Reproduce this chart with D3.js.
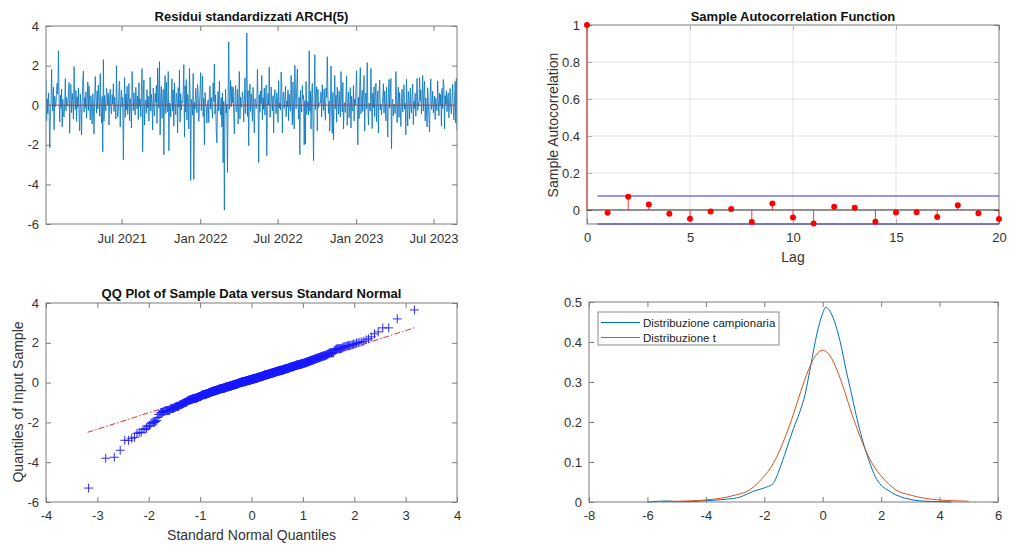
<!DOCTYPE html>
<html><head><meta charset="utf-8">
<script src="https://cdn.jsdelivr.net/npm/d3@7"></script>
<style>
body{margin:0;background:#fff;}
svg{display:block;font-family:"Liberation Sans",Arial,Helvetica,sans-serif;}
</style></head><body>
<svg id="c" width="1011" height="546"></svg>
<script>
// ---------------- DATA ----------------
const residuals = [
1.25,-0.78,0.33,-0.42,0.62,-0.18,-2.15,-0.55,0.14,1.8,0.22,-0.3,0.92,-1.25,0.45,-0.07,0.03,0.8,1.12,0.55,
2.75,0.25,-0.85,0.5,-0.15,0.82,-1.1,0.3,-0.48,-0.6,0.1,1.35,-0.28,0.4,0.02,-0.05,0.7,1.15,-1.42,0.95,
1.05,-0.38,0.6,0.18,-0.7,1.95,0.28,-0.22,0.75,-0.82,0.42,-0.1,0.88,-0.5,-1.3,0.57,0.05,-1.5,0.15,1.25,
1.72,-0.35,0.38,-0.12,0.68,-0.65,0.2,1.18,-0.27,0.98,0.08,-0.75,0.48,-0.2,-0.95,0.58,0.0,-1.45,0.35,1.45,
0.3,-0.4,0.72,-0.2,1.02,0.22,-0.55,1.6,-0.05,-0.9,0.44,-2.35,2.3,-0.8,0.5,0.1,-0.3,0.86,0.64,0.0,
0.6,-1.0,0.27,0.81,-0.16,-0.44,0.53,0.06,1.08,-0.32,0.41,-0.02,-0.7,2.0,0.17,-0.6,-0.25,0.93,1.22,-1.1,
0.23,0.76,-0.1,0.39,-2.75,-0.36,1.4,-0.62,0.56,-0.24,0.96,-0.46,0.13,1.1,-0.78,0.34,0.04,-1.15,1.7,0.66,
-0.28,0.63,0.0,-0.5,0.9,0.19,-0.18,0.47,-0.72,1.14,-0.06,0.31,-0.58,0.7,1.85,-2.35,0.37,1.28,-1.0,0.11,
0.26,-0.4,0.79,-0.13,0.45,-0.8,0.18,1.42,-0.3,0.55,0.07,-1.25,0.87,-0.22,-0.54,0.6,0.14,1.0,-0.92,1.88,
0.68,-0.15,2.2,-1.5,0.43,0.94,-0.66,0.24,0.8,-2.5,0.51,1.5,-0.42,1.16,-0.09,-0.33,1.7,-2.3,0.12,0.03,
-0.6,0.46,1.33,-0.3,0.77,-1.05,1.12,0.09,-0.48,0.62,0.33,-1.4,0.89,-0.12,1.78,-0.85,0.58,-0.25,0.21,0.15,
0.7,2.05,-1.6,0.98,-0.35,1.3,-0.75,0.55,0.4,-1.2,1.85,0.8,-3.8,0.3,0.05,-0.5,1.6,-3.75,0.14,-0.2,
0.85,0.22,-0.38,1.05,0.5,-0.82,-0.05,0.72,1.65,-0.27,0.42,1.48,-0.57,0.35,-2.0,0.64,0.1,-0.14,-0.9,0.01,
0.27,-0.88,0.58,0.97,-0.19,0.4,-0.1,-0.66,1.13,0.19,2.08,-0.45,0.52,-1.3,-1.9,0.13,0.69,-0.29,1.21,0.02,
-0.5,0.38,-1.1,0.62,-2.9,0.2,-5.3,-0.6,0.8,-0.4,0.04,-3.4,0.45,3.2,-0.2,0.31,1.25,-0.08,0.95,0.12,
0.91,-0.47,-1.45,0.49,1.0,-0.33,-0.23,0.82,-0.95,-0.01,1.7,-0.7,0.41,-0.11,0.09,0.67,0.29,-0.84,0.17,1.38,
-0.42,0.61,3.65,-0.56,0.74,-2.05,0.44,1.07,-0.31,0.57,0.15,-0.8,0.9,-0.04,-1.4,0.33,0.24,-0.17,0.06,1.8,
0.28,-2.9,0.53,-0.36,0.71,0.08,1.5,-0.74,0.39,-0.21,0.86,-0.5,0.18,1.02,-2.55,-0.07,0.59,0.0,1.92,-0.62,
-0.55,0.92,0.2,-0.28,0.48,-1.4,0.37,0.79,0.03,-0.44,0.63,0.32,-0.87,1.24,-0.14,0.11,-0.24,1.68,1.09,-1.4,
0.43,0.66,-0.16,0.26,0.95,-0.58,0.21,-0.09,0.77,-0.78,0.56,-0.03,-0.3,1.5,0.05,-1.0,1.17,-0.4,-1.2,2.02,
0.6,-0.18,0.88,1.83,0.1,-0.7,0.4,-2.5,0.75,-0.06,-0.35,0.99,0.3,0.5,-2.0,0.23,-1.95,1.2,-0.46,0.02,
0.19,-0.5,2.75,-0.3,0.7,-1.2,0.46,1.1,-0.82,-2.8,0.34,2.55,-0.22,0.55,0.93,-1.3,0.8,-0.12,0.07,0.14,
0.1,0.68,-0.6,1.03,0.29,-0.27,0.82,-0.13,-0.76,0.87,0.38,2.45,0.52,-0.41,0.22,-1.3,0.04,1.98,-0.2,-1.42,
0.64,-1.75,0.26,1.5,-0.18,0.5,-0.86,0.91,0.17,-0.45,0.72,-0.08,-0.6,1.7,0.42,-0.34,1.15,-1.2,0.0,0.13,
-0.37,0.53,1.46,-1.02,0.2,0.67,-0.63,0.06,0.89,-1.15,0.45,-0.24,-0.29,1.0,-0.8,0.31,0.01,0.78,1.74,-0.1,
-2.0,0.41,-0.68,0.96,1.9,-0.43,0.25,0.76,-0.32,0.57,1.5,-1.3,0.34,0.61,-0.19,2.15,0.03,-1.0,0.11,-0.05,
-0.3,1.86,0.27,-1.18,0.62,-0.11,0.94,-0.58,0.44,1.12,-0.83,0.16,0.73,-1.4,0.51,1.27,-0.23,0.07,-0.48,-0.02,
0.38,1.08,-0.39,0.71,0.12,-0.79,0.9,-0.28,-1.6,0.59,1.3,-0.15,0.47,1.35,-2.2,0.18,0.3,-0.54,0.05,-0.07,
-0.42,1.7,0.49,-0.88,0.24,0.92,-0.62,0.64,-0.12,-1.08,0.39,0.81,-0.35,0.33,1.04,-0.2,0.09,-1.5,1.32,0.0,
-1.05,0.69,0.28,-0.7,0.86,0.04,-0.4,0.54,1.06,-0.98,0.21,-0.16,0.6,-0.56,0.43,1.36,-0.26,0.14,-0.05,1.4,
0.19,0.77,-0.45,0.3,1.5,-0.3,0.65,1.2,-0.8,0.37,-0.1,-1.1,0.88,0.12,-0.6,-1.35,0.5,1.33,-0.21,0.02,
0.7,-0.38,0.08,0.46,-0.72,0.35,-0.09,-0.27,1.23,0.22,-0.53,0.6,0.01,0.55,-1.05,0.85,-0.17,1.3,1.0,-1.2,
0.48,0.05,0.73,-0.33,0.4,0.62,-0.64,0.18,0.84,-0.14,-0.43,0.25,1.05,-0.06,-0.75,0.15,1.2,-0.9,1.35,-1.25
];
const seriesStart = "2021-01-05";
const seriesEnd = "2023-08-25";
const dateTicks = ["2021-07-01","2022-01-01","2022-07-01","2023-01-01","2023-07-01"];
const residTicks = [-6,-4,-2,0,2,4];

const acfLags = [0,1,2,3,4,5,6,7,8,9,10,11,12,13,14,15,16,17,18,19,20];
const acfValues = [1,-0.015,0.072,0.030,-0.020,-0.047,-0.008,0.005,-0.065,0.035,-0.040,-0.073,0.017,0.012,-0.063,-0.013,-0.012,-0.038,0.025,-0.018,-0.048];
const acfBound = 0.0757;
const acfXTicks = [0,5,10,15,20];
const acfYTicks = [0,0.2,0.4,0.6,0.8,1];

const qqLineX = [-3.19, 3.19];
const qqLineY = [-2.50, 2.77];
const qqXTicks = [-4,-3,-2,-1,0,1,2,3,4];
const qqYTicks = [-6,-4,-2,0,2,4];

const kdeX = [-6.0,-5.6,-5.3,-5.0,-4.5,-4.1,-3.6,-3.3,-2.8,-2.4,-2.1,-1.9,-1.7,-1.5,-1.25,-1.0,-0.8,-0.6,-0.4,-0.2,0.0,0.1,0.2,0.4,0.6,0.8,1.0,1.2,1.4,1.6,1.8,2.0,2.2,2.5,2.8,3.1,3.5,4.0,4.4];
const kdeY = [0.000,0.002,0.0025,0.001,0.001,0.003,0.005,0.007,0.013,0.026,0.033,0.038,0.046,0.078,0.130,0.184,0.222,0.270,0.345,0.420,0.472,0.487,0.482,0.452,0.400,0.330,0.265,0.200,0.145,0.100,0.063,0.042,0.031,0.018,0.010,0.005,0.002,0.001,0.000];
const tX = [-5.5,-5,-4.5,-4,-3.5,-3,-2.5,-2.25,-2,-1.75,-1.5,-1.25,-1,-0.75,-0.5,-0.25,0,0.25,0.5,0.75,1,1.25,1.5,1.75,2,2.25,2.5,3,3.5,4,4.5,5];
const tY = [0.0011,0.0018,0.0030,0.0051,0.0092,0.0173,0.0303,0.0455,0.0651,0.0893,0.1245,0.1688,0.2197,0.2769,0.3279,0.3655,0.3796,0.3655,0.3279,0.2769,0.2197,0.1688,0.1245,0.0893,0.0651,0.0455,0.0303,0.0173,0.0092,0.0051,0.0030,0.0018];
const densXTicks = [-8,-6,-4,-2,0,2,4,6];
const densYTicks = [0,0.1,0.2,0.3,0.4,0.5];
const legendLabels = ["Distribuzione campionaria","Distribuzione t"];

// ---------------- HELPERS ----------------
const svg = d3.select("#c");
const AX = "#7d7d7d", TXT = "#333";
const FONT = 13;

function frame(x, y, xTicks, yTicks, xFmt, yFmt, xPad){
  const [l,r] = x.range(), [b,t] = y.range();
  const g = svg.append("g");
  const gb = g.append("g").attr("transform",`translate(0,${b})`)
    .call(d3.axisBottom(x).tickValues(xTicks).tickSizeInner(-5).tickSizeOuter(0).tickPadding(xPad||9).tickFormat(xFmt));
  const gt = g.append("g").attr("transform",`translate(0,${t})`)
    .call(d3.axisTop(x).tickValues(xTicks).tickSizeInner(-5).tickSizeOuter(0).tickFormat(""));
  const gl = g.append("g").attr("transform",`translate(${l},0)`)
    .call(d3.axisLeft(y).tickValues(yTicks).tickSizeInner(-5).tickSizeOuter(0).tickPadding(7).tickFormat(yFmt));
  const gr = g.append("g").attr("transform",`translate(${r},0)`)
    .call(d3.axisRight(y).tickValues(yTicks).tickSizeInner(-5).tickSizeOuter(0).tickFormat(""));
  [gb,gt,gl,gr].forEach(a=>{
    a.select(".domain").remove();
    a.selectAll("line").attr("stroke",AX);
    a.selectAll("text").attr("fill",TXT).style("font-size",FONT+"px").style("font-family","Liberation Sans, Arial, sans-serif");
  });
  g.append("rect").attr("x",l).attr("y",t).attr("width",r-l).attr("height",b-t)
    .attr("fill","none").attr("stroke",AX).attr("stroke-width",1);
  return g;
}
function title(txt, cx, y){
  svg.append("text").attr("x",cx).attr("y",y).attr("text-anchor","middle")
    .attr("font-weight","bold").attr("font-size","13px").attr("fill","#111").text(txt);
}
function clip(id, x, y){
  const [l,r] = x.range(), [b,t] = y.range();
  svg.append("clipPath").attr("id",id).append("rect").attr("x",l).attr("y",t).attr("width",r-l).attr("height",b-t);
}

// ---------------- PANEL 1: residuals time series ----------------
{
  const t0 = new Date(seriesStart+"T00:00:00"), t1 = new Date(seriesEnd+"T00:00:00");
  const n = residuals.length;
  const dates = residuals.map((v,i)=> new Date(+t0 + (t1-t0)*i/(n-1)));
  const x = d3.scaleTime().domain([t0,t1]).range([46,457]);
  const y = d3.scaleLinear().domain([-6,4]).range([224,26]);
  clip("c1", x, y);
  const g = svg.append("g").attr("clip-path","url(#c1)");
  g.append("path").datum(residuals)
    .attr("d", d3.line().x((d,i)=>x(dates[i])).y(d=>y(d)))
    .attr("fill","none").attr("stroke","#0072BD").attr("stroke-width",0.8);
  g.append("line").attr("x1",x.range()[0]).attr("x2",x.range()[1]).attr("y1",y(0)).attr("y2",y(0))
    .attr("stroke","#e02020").attr("stroke-width",0.9);
  const fmt = d3.timeFormat("%b %Y");
  frame(x, y, dateTicks.map(s=>new Date(s+"T00:00:00")), residTicks, d=>fmt(d), d=>d, 10);
  title("Residui standardizzati ARCH(5)", 251.5, 20.5);
}

// ---------------- PANEL 2: ACF ----------------
{
  const x = d3.scaleLinear().domain([0,20]).range([587,999]);
  const y = d3.scaleLinear().domain([-acfBound,1]).range([224,25]);
  const g = svg.append("g");
  acfXTicks.slice(1,-1).forEach(v=> g.append("line").attr("x1",x(v)).attr("x2",x(v)).attr("y1",y.range()[1]).attr("y2",y.range()[0]).attr("stroke","#e3e3e3"));
  acfYTicks.slice(1,-1).forEach(v=> g.append("line").attr("x1",x.range()[0]).attr("x2",x.range()[1]).attr("y1",y(v)).attr("y2",y(v)).attr("stroke","#e3e3e3"));
  g.append("line").attr("x1",x(0)).attr("x2",x(20)).attr("y1",y(0)).attr("y2",y(0)).attr("stroke","#222").attr("stroke-width",1);
  [acfBound,-acfBound].forEach(v=> g.append("line").attr("x1",x(0.5)).attr("x2",x(20)).attr("y1",y(v)).attr("y2",y(v)).attr("stroke","#2f2fe0").attr("stroke-width",1));
  g.selectAll(".stem").data(acfLags).enter().append("line")
    .attr("x1",d=>x(d)).attr("x2",d=>x(d)).attr("y1",y(0)).attr("y2",(d,i)=>y(acfValues[i]))
    .attr("stroke","#ff2020").attr("stroke-width",0.9);
  frame(x, y, acfXTicks, acfYTicks, d=>d, d=>d, 9);
  g.raise();
  svg.append("g").selectAll("circle").data(acfLags).enter().append("circle")
    .attr("cx",d=>x(d)).attr("cy",(d,i)=>y(acfValues[i])).attr("r",3).attr("fill","#ff0000");
  title("Sample Autocorrelation Function", 793, 20.5);
  svg.append("text").attr("x",x(10)).attr("y",262).attr("text-anchor","middle").attr("font-size","14px").attr("fill",TXT).text("Lag");
  svg.append("text").attr("transform","translate(558,125) rotate(-90)").attr("text-anchor","middle").attr("font-size","14px").attr("fill",TXT).text("Sample Autocorrelation");
}

// ---------------- PANEL 3: QQ plot ----------------
function invNorm(p){
  const a=[-3.969683028665376e+01,2.209460984245205e+02,-2.759285104469687e+02,1.383577518672690e+02,-3.066479806614716e+01,2.506628277459239e+00];
  const b=[-5.447609879822406e+01,1.615858368580409e+02,-1.556989798598866e+02,6.680131188771972e+01,-1.328068155288572e+01];
  const c=[-7.784894002430293e-03,-3.223964580411365e-01,-2.400758277161838e+00,-2.549732539343734e+00,4.374664141464968e+00,2.938163982698783e+00];
  const d=[7.784695709041462e-03,3.224671290700398e-01,2.445134137142996e+00,3.754408661907416e+00];
  const pl=0.02425, ph=1-pl; let q,r;
  if(p<pl){q=Math.sqrt(-2*Math.log(p));return (((((c[0]*q+c[1])*q+c[2])*q+c[3])*q+c[4])*q+c[5])/((((d[0]*q+d[1])*q+d[2])*q+d[3])*q+1);}
  if(p<=ph){q=p-0.5;r=q*q;return (((((a[0]*r+a[1])*r+a[2])*r+a[3])*r+a[4])*r+a[5])*q/(((((b[0]*r+b[1])*r+b[2])*r+b[3])*r+b[4])*r+1);}
  q=Math.sqrt(-2*Math.log(1-p));return -(((((c[0]*q+c[1])*q+c[2])*q+c[3])*q+c[4])*q+c[5])/((((d[0]*q+d[1])*q+d[2])*q+d[3])*q+1);
}
{
  const x = d3.scaleLinear().domain([-4,4]).range([46,457]);
  const y = d3.scaleLinear().domain([-6,4]).range([502,303]);
  const sorted = residuals.slice().sort(d3.ascending);
  const n = sorted.length;
  const pts = sorted.map((v,i)=>[invNorm((i+0.5)/n), v]);
  frame(x, y, qqXTicks, qqYTicks, d=>d, d=>d, 9);
  svg.append("line").attr("x1",x(qqLineX[0])).attr("x2",x(qqLineX[1])).attr("y1",y(qqLineY[0])).attr("y2",y(qqLineY[1]))
    .attr("stroke","#e8302a").attr("stroke-width",1).attr("stroke-dasharray","6,2,1.5,2");
  svg.append("g").selectAll("path").data(pts).enter().append("path")
    .attr("d",d=>`M${x(d[0])-4.5},${y(d[1])}h9M${x(d[0])},${y(d[1])-4.5}v9`)
    .attr("stroke","#1a1aff").attr("stroke-width",0.9).attr("fill","none");
  title("QQ Plot of Sample Data versus Standard Normal", 251.5, 297.5);
  svg.append("text").attr("x",251.5).attr("y",540).attr("text-anchor","middle").attr("font-size","14px").attr("fill",TXT).text("Standard Normal Quantiles");
  svg.append("text").attr("transform","translate(23,402) rotate(-90)").attr("text-anchor","middle").attr("font-size","14px").attr("fill",TXT).text("Quantiles of Input Sample");
}

// ---------------- PANEL 4: densities ----------------
{
  const x = d3.scaleLinear().domain([-8,6]).range([589,998]);
  const y = d3.scaleLinear().domain([0,0.5]).range([502,302]);
  frame(x, y, densXTicks, densYTicks, d=>d, d=>d, 9);
  const line = d3.line().x(d=>x(d[0])).y(d=>y(d[1])).curve(d3.curveMonotoneX);
  svg.append("path").datum(kdeX.map((v,i)=>[v,kdeY[i]])).attr("d",line)
    .attr("fill","none").attr("stroke","#0072BD").attr("stroke-width",1);
  svg.append("path").datum(tX.map((v,i)=>[v,tY[i]])).attr("d",line)
    .attr("fill","none").attr("stroke","#D95319").attr("stroke-width",1);
  const lg = svg.append("g");
  lg.append("rect").attr("x",598).attr("y",312).attr("width",181).attr("height",33)
    .attr("fill","#fff").attr("stroke","#8a8a8a").attr("stroke-width",1);
  const cols = ["#0072BD","#D95319"];
  legendLabels.forEach((s,i)=>{
    const yy = 322.5 + i*15;
    lg.append("line").attr("x1",601).attr("x2",640).attr("y1",yy).attr("y2",yy).attr("stroke",cols[i]).attr("stroke-width",1);
    lg.append("text").attr("x",643).attr("y",yy+4).attr("font-size","11.5px").attr("fill","#222").text(s);
  });
}
</script>
</body></html>
